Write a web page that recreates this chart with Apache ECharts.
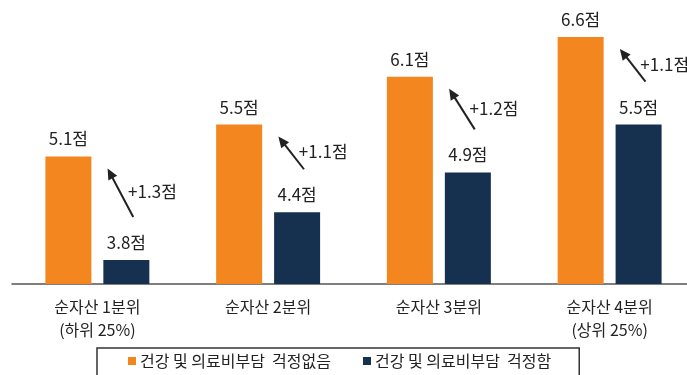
<!DOCTYPE html>
<html>
<head>
<meta charset="utf-8">
<script src="https://cdn.jsdelivr.net/npm/echarts@6/dist/echarts.min.js"></script>
<style>
  html, body { margin: 0; padding: 0; background: #fff; }
  #chart { width: 687px; height: 375px; }
</style>
</head>
<body>
<div id="chart"></div>
<script>
// 순자산 분위별 점수 (건강·의료비 부담 걱정 여부)
const categories = ['순자산 1분위\n(하위 25%)', '순자산 2분위', '순자산 3분위', '순자산 4분위\n(상위 25%)'];
const seriesNames = ['건강 및 의료비부담  걱정없음', '건강 및 의료비부담  걱정함'];
const noWorry = [5.1, 5.5, 6.1, 6.6];
const worry = [3.8, 4.4, 4.9, 5.5];
const gaps = [1.3, 1.1, 1.2, 1.1];

const FONT = '"Noto Sans CJK KR", "Noto Sans", sans-serif';
const ORANGE = '#F4861F';
const NAVY = '#16304F';
const INK = '#222222';

// 각 분위의 차이를 표시하는 화살표 데이터: [분위, 걱정없음, 걱정함, 차이]
const arrowData = categories.map((_, i) => [i, noWorry[i], worry[i], gaps[i]]);

const chart = echarts.init(document.getElementById('chart'), null, { renderer: 'canvas' });

function renderArrow(params, api) {
  const idx = api.value(0);
  const top = api.coord([idx, api.value(1)]);
  const low = api.coord([idx, api.value(2)]);
  const bw = api.size([1, 0])[0];
  const cx = top[0];
  const head = [cx + bw * 0.06, top[1] + 12];
  const tail = [cx + bw * 0.21, low[1] - 43];
  const dx = head[0] - tail[0], dy = head[1] - tail[1];
  const len = Math.sqrt(dx * dx + dy * dy);
  const ux = dx / len, uy = dy / len;
  const hl = 11, hw = 5;
  const base = [head[0] - ux * hl, head[1] - uy * hl];
  const px = -uy, py = ux;
  const diff = api.value(3);
  return {
    type: 'group',
    children: [
      {
        type: 'line',
        shape: { x1: tail[0], y1: tail[1], x2: base[0] + ux * 2, y2: base[1] + uy * 2 },
        style: { stroke: INK, lineWidth: 2 }
      },
      {
        type: 'polygon',
        shape: { points: [head, [base[0] + px * hw, base[1] + py * hw], [base[0] - px * hw, base[1] - py * hw]] },
        style: { fill: INK }
      },
      {
        type: 'text',
        x: cx + bw * 0.18,
        y: (head[1] + tail[1]) / 2 - 1,
        style: {
          text: '+' + diff.toFixed(1) + '점',
          fill: INK,
          font: '17px ' + FONT,
          align: 'left',
          verticalAlign: 'middle'
        }
      }
    ]
  };
}

const valueLabel = {
  show: true,
  position: 'top',
  distance: 9,
  color: INK,
  fontSize: 17,
  fontFamily: FONT,
  formatter: p => p.value.toFixed(1) + '점'
};

chart.setOption({
  animation: false,
  backgroundColor: '#ffffff',
  textStyle: { fontFamily: FONT },
  grid: { left: 12, width: 683, top: 5, bottom: 91, containLabel: false, outerBoundsMode: 'none' },
  xAxis: {
    type: 'category',
    data: categories,
    axisLine: { show: true, lineStyle: { color: '#555', width: 1.5 } },
    axisTick: { show: false },
    axisLabel: {
      color: INK,
      fontSize: 16,
      fontFamily: FONT,
      lineHeight: 23,
      margin: 11,
      interval: 0
    }
  },
  yAxis: {
    type: 'value',
    min: 3.5,
    max: 7,
    show: false,
    splitLine: { show: false }
  },
  legend: {
    data: seriesNames,
    left: 97,
    top: 348,
    padding: [5, 28, 20, 31],
    itemWidth: 8,
    itemHeight: 8,
    itemGap: 32,
    icon: 'rect',
    borderColor: '#333',
    borderWidth: 1.5,
    textStyle: { color: INK, fontSize: 16, fontFamily: FONT, padding: [0, 0, 0, -1] }
  },
  series: [
    {
      name: seriesNames[0],
      type: 'bar',
      data: noWorry,
      barWidth: 46,
      barGap: '26%',
      itemStyle: { color: ORANGE },
      label: valueLabel
    },
    {
      name: seriesNames[1],
      type: 'bar',
      data: worry,
      barWidth: 46,
      itemStyle: { color: NAVY },
      label: valueLabel
    },
    {
      name: 'gap',
      type: 'custom',
      data: arrowData,
      encode: { x: 0, y: 1 },
      renderItem: renderArrow,
      silent: true,
      z: 5
    }
  ]
});
</script>
</body>
</html>
